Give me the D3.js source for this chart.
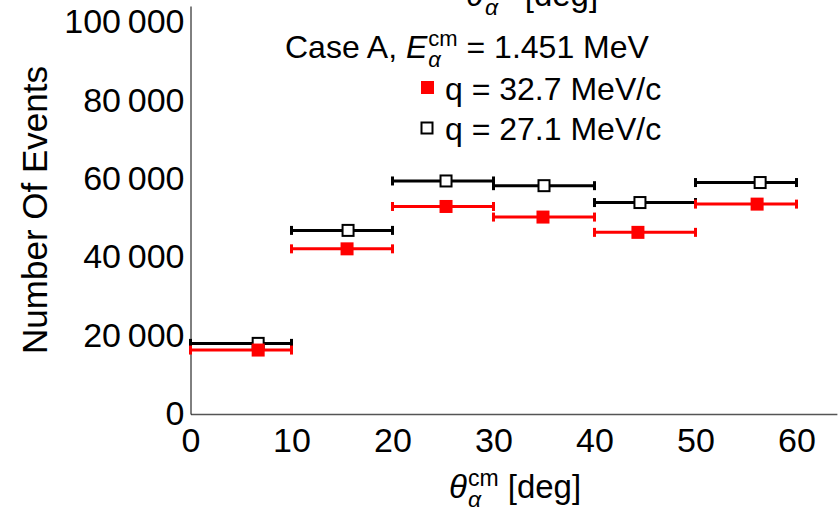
<!DOCTYPE html>
<html>
<head>
<meta charset="utf-8">
<script src="https://cdn.jsdelivr.net/npm/d3@7"></script>
<style>
  body { margin: 0; background: #fff; }
  text { font-family: "Liberation Sans", Arial, sans-serif; fill: #000; white-space: pre; }
</style>
</head>
<body>
<div id="chart"></div>
<script>
// ---------- data ----------
var binLow  = [0, 10, 20, 30, 40, 50];
var binHigh = [10, 20, 30, 40, 50, 60];
var redX     = [6.7, 15.5, 25.3, 34.9, 44.3, 56.1];
var redVals  = [16300, 42100, 52900, 50200, 46300, 53500];
var blackX    = [6.7, 15.6, 25.3, 35.0, 44.5, 56.4];
var blackVals = [18000, 46800, 59400, 58200, 53900, 59000];
var xTicks = [0, 10, 20, 30, 40, 50, 60];
var yTicks = [0, 20000, 40000, 60000, 80000, 100000];

// ---------- svg ----------
var svgWidth = 838;
var svgHeight = 512;

var svg = d3.select('#chart')
    .append('svg')
    .attr('width', svgWidth)
    .attr('height', svgHeight);

var xScale = d3.scaleLinear()
    .domain([0, 64])
    .range([190.5, 836.9]);
var yScale = d3.scaleLinear()
    .domain([0, 104000])
    .range([414, 6]);

// thin-space thousands
var fmt = function(d) { return d3.format(',')(d).replace(/,/g, '\u2009'); };

// axes
var xAxisG = svg.append('g')
    .attr('transform', 'translate(0,' + yScale(0) + ')')
    .call(d3.axisBottom(xScale).tickValues(xTicks).tickSize(0).tickPadding(14));
xAxisG.select('.domain').attr('stroke', '#555').attr('stroke-width', 1.5);
xAxisG.selectAll('text').style('font-size', '34px');

var yAxisG = svg.append('g')
    .attr('transform', 'translate(' + xScale(0) + ',0)')
    .call(d3.axisLeft(yScale).tickValues(yTicks).tickFormat(fmt).tickSize(0).tickPadding(6));
yAxisG.select('.domain').attr('stroke', '#000').attr('stroke-width', 1);
yAxisG.selectAll('text').style('font-size', '34px');

// label with stacked super/subscript
function mathText(g, x, y, size, pre, base, sup, sub, post) {
    var small = Math.round(size * 0.69);
    var t = g.append('text').attr('x', x).attr('y', y).style('font-size', size + 'px');
    var w = 0;
    if (pre) {
        t.text(pre);
        w = t.node().getComputedTextLength();
    }
    var b = g.append('text').attr('x', x + w).attr('y', y)
        .style('font-size', size + 'px').style('font-style', 'italic').text(base);
    w += b.node().getComputedTextLength() + 1;
    var s1 = g.append('text').attr('x', x + w).attr('y', y - 12)
        .style('font-size', small + 'px').text(sup);
    var s2 = g.append('text').attr('x', x + w).attr('y', y + 9)
        .style('font-size', small + 'px').style('font-style', 'italic').text(sub);
    w += Math.max(s1.node().getComputedTextLength(), s2.node().getComputedTextLength());
    g.append('text').attr('x', x + w).attr('y', y)
        .style('font-size', size + 'px').text(post);
}

// axis titles
svg.append('text')
    .attr('transform', 'translate(47,210) rotate(-90)')
    .attr('text-anchor', 'middle')
    .style('font-size', '35px')
    .text('Number Of Events');

mathText(svg, 449, 498, 33, '', '\u03b8', 'cm', '\u03b1', ' [deg]');
mathText(svg, 466, 6, 33, '', '\u03b8', 'cm', '\u03b1', ' [deg]');

// ---------- series ----------
function drawSeries(xs, vals, color) {
    var g = svg.append('g');
    var idx = d3.range(vals.length);
    g.selectAll('line.bar').data(idx).enter().append('line')
        .attr('x1', i => xScale(binLow[i]))
        .attr('x2', i => xScale(binHigh[i]))
        .attr('y1', i => yScale(vals[i]))
        .attr('y2', i => yScale(vals[i]))
        .attr('stroke', color).attr('stroke-width', 3);
    var caps = [];
    idx.forEach(function(i) { caps.push([binLow[i], vals[i]]); caps.push([binHigh[i], vals[i]]); });
    g.selectAll('line.cap').data(caps).enter().append('line')
        .attr('x1', d => xScale(d[0]))
        .attr('x2', d => xScale(d[0]))
        .attr('y1', d => yScale(d[1]) - 4.5)
        .attr('y2', d => yScale(d[1]) + 4.5)
        .attr('stroke', color).attr('stroke-width', 3);
    return { g: g, idx: idx };
}

var blk = drawSeries(blackX, blackVals, '#000');
var red = drawSeries(redX, redVals, '#ff0000');

blk.g.selectAll('rect').data(blk.idx).enter().append('rect')
    .attr('x', i => xScale(blackX[i]) - 5.5)
    .attr('y', i => yScale(blackVals[i]) - 5.5)
    .attr('width', 11).attr('height', 11)
    .attr('fill', '#fff').attr('stroke', '#000').attr('stroke-width', 2);
red.g.selectAll('rect').data(red.idx).enter().append('rect')
    .attr('x', i => xScale(redX[i]) - 6.5)
    .attr('y', i => yScale(redVals[i]) - 6.5)
    .attr('width', 13).attr('height', 13)
    .attr('fill', '#ff0000');

// ---------- legend ----------
var leg = svg.append('g');
mathText(leg, 285, 58, 32, 'Case A, ', 'E', 'cm', '\u03b1', ' = 1.451 MeV');
leg.append('rect').attr('x', 421).attr('y', 81).attr('width', 13).attr('height', 13).attr('fill', '#ff0000');
leg.append('text').attr('x', 445).attr('y', 100).style('font-size', '32px').text('q = 32.7 MeV/c');
leg.append('rect').attr('x', 421.5).attr('y', 122.5).attr('width', 11).attr('height', 11)
    .attr('fill', '#fff').attr('stroke', '#000').attr('stroke-width', 2);
leg.append('text').attr('x', 445).attr('y', 140).style('font-size', '32px').text('q = 27.1 MeV/c');
</script>
</body>
</html>
